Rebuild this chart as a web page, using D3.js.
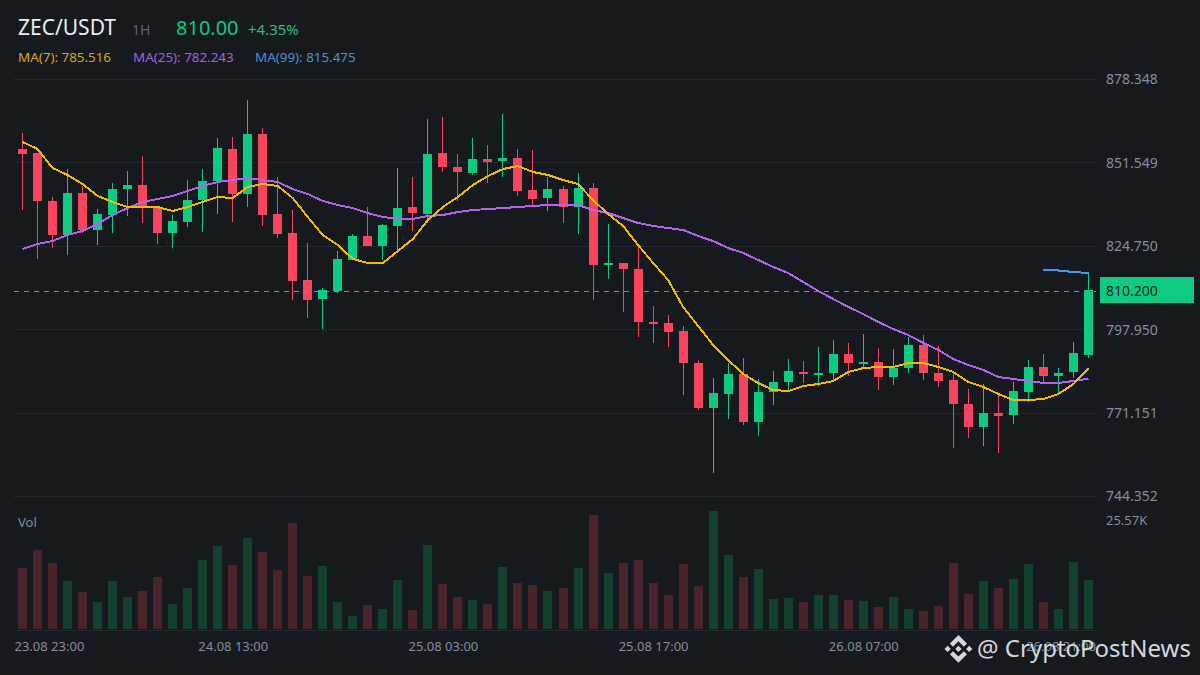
<!DOCTYPE html>
<html>
<head>
<meta charset="utf-8">
<title>ZEC/USDT</title>
<script src="https://cdn.jsdelivr.net/npm/d3@7"></script>
<style>
html, body { margin: 0; padding: 0; background: #161a1e; }
svg { display: block; }
text { font-family: "Noto Sans", sans-serif; }
.domain { display: none; }
</style>
</head>
<body>
<svg id="chart" width="1200" height="675"></svg>
<script>
// hourly candles
var opens = [856.01,854.73,839.31,828.38,841.88,829.99,834.80,843.16,844.44,837.05,829.03,832.56,839.63,845.73,856.01,841.55,860.83,835.12,829.03,813.92,
    807.81,810.39,820.35,828.06,824.84,831.27,837.38,835.12,854.73,850.23,848.30,852.80,852.16,853.12,842.84,840.27,843.16,837.38,843.48,818.74,
    819.39,817.46,800.43,800.11,797.53,787.25,772.79,777.29,783.71,768.29,777.93,781.15,784.36,783.39,784.04,790.14,786.93,787.57,782.75,785.64,
    793.03,784.04,781.79,774.07,766.68,771.19,770.55,777.93,785.96,783.07,784.36,789.82];
var highs = [861.16,854.73,840.59,849.59,844.13,836.73,845.09,848.95,853.76,837.70,834.80,846.05,849.59,859.55,859.87,871.76,862.76,847.01,836.41,825.80,
    811.35,823.24,828.70,837.38,831.91,849.91,847.01,865.65,866.30,854.40,859.55,857.30,867.26,856.01,855.69,847.01,844.13,848.30,845.09,831.91,
    819.39,824.52,805.56,802.67,799.14,788.21,782.43,787.25,788.85,782.11,784.68,788.53,787.89,792.39,794.64,793.68,796.56,792.07,791.75,795.60,
    796.24,792.71,784.04,778.89,780.50,777.29,781.15,788.21,790.14,785.64,794.00,816.49];
var lows = [836.41,820.67,824.20,821.95,829.03,825.16,829.03,834.48,832.24,825.48,824.20,830.95,829.35,835.12,832.56,837.38,831.27,827.41,807.49,801.71,
    798.17,809.75,820.35,824.84,820.35,823.56,829.67,832.24,848.62,839.31,847.66,845.09,847.01,840.92,838.02,836.09,832.24,828.70,807.49,814.24,
    803.64,795.60,793.68,792.39,776.96,772.15,751.91,769.25,767.33,763.79,773.75,777.93,780.83,779.86,781.79,783.07,785.64,778.57,780.18,784.04,
    781.79,779.54,759.93,763.15,760.57,758.33,767.65,774.72,781.15,777.29,782.43,788.85];
var closes = [854.40,839.31,828.38,841.88,829.99,835.12,843.16,844.44,837.05,829.03,832.88,839.63,845.73,856.33,841.55,860.83,834.80,828.70,813.60,807.49,
    810.71,820.67,828.06,824.84,831.59,837.05,835.44,854.40,850.23,848.62,852.80,851.84,853.12,842.52,839.95,843.16,837.38,843.48,818.74,819.39,
    817.46,800.43,799.79,797.21,787.25,772.79,777.61,783.71,768.29,777.93,781.15,784.68,783.71,784.04,790.14,787.25,787.57,782.75,785.64,793.03,
    784.04,781.47,774.07,766.68,771.19,770.23,778.25,785.96,783.07,784.04,790.46,810.60];
// volume in thousands
var volumes = [14.50,18.74,15.67,11.43,8.84,6.48,11.43,7.66,9.07,12.37,6.01,9.78,16.38,19.68,15.20,21.57,18.27,14.02,25.10,12.61,
    14.97,6.48,3.18,5.77,4.83,11.67,4.60,19.92,10.72,7.66,6.95,6.01,14.73,10.96,10.49,9.07,9.78,14.50,26.99,13.32,
    15.67,16.38,10.96,8.13,15.44,10.25,27.93,17.56,12.37,14.26,7.19,7.42,6.48,8.13,8.13,6.95,6.72,5.30,7.66,4.83,
    4.36,5.54,15.67,8.37,11.43,9.78,11.90,15.44,6.48,4.83,15.91,11.67];
var ma7 = [858.27,856.01,849.91,847.66,844.77,840.92,838.99,837.38,837.38,837.38,836.09,837.38,838.99,840.59,840.27,843.80,844.77,844.13,840.27,834.16,
    828.38,825.16,820.67,819.39,819.39,823.24,827.09,833.20,837.38,840.59,844.44,847.33,849.59,850.55,848.62,847.66,846.05,844.77,839.63,835.12,
    831.27,825.16,819.39,813.92,805.24,799.14,793.03,788.21,783.71,780.83,778.57,778.25,779.86,780.50,781.47,784.36,785.64,785.96,785.96,787.25,
    787.25,785.96,784.36,781.15,779.54,777.29,775.36,775.36,775.68,777.29,780.50,785.52];
var ma25 = [823.88,825.48,826.45,828.38,829.67,831.91,834.80,837.05,838.99,839.95,840.92,842.52,844.13,845.41,846.05,846.69,846.05,845.41,843.16,841.55,
    839.31,838.02,837.05,835.44,834.16,833.52,833.52,834.48,834.80,835.77,836.41,836.73,837.05,837.38,837.70,838.02,838.02,838.02,836.41,835.44,
    833.84,832.24,831.27,830.63,829.99,828.06,826.45,824.20,822.60,820.35,818.10,816.17,813.28,810.39,807.81,805.24,802.99,800.43,798.17,796.24,
    793.68,791.43,788.53,786.60,785.00,782.75,782.11,781.47,780.83,780.83,781.47,782.24];
// only the tail of the MA(99) is in view
var ma99 = [817.13,816.97,816.49,816.17];
var ma99Start = 68;

var priceTicks = [878.348,851.549,824.750,797.950,771.151,744.352];
var lastPrice = 810.200;
var timeTicks = [0,14,28,42,56,70];
var timeLabels = ["23.08 23:00","24.08 13:00","25.08 03:00","25.08 17:00","26.08 07:00","26.08 21:00"];
var volTick = 25.57;

var green = "#0ecb81", red = "#f6465d",
    greenVol = "#124130", redVol = "#4b232a",
    gridColor = "#25282d", axisText = "#848e9c",
    ma7Color = "#f0b90b", ma25Color = "#b463ef", ma99Color = "#4a96ee";

var svg = d3.select("#chart");
svg.append("rect").attr("width", 1200).attr("height", 675).attr("fill", "#161a1e");

var x = d3.scaleLinear().domain([0, closes.length - 1]).range([22.5, 1088.5]);
var y = d3.scaleLinear().domain([744.352, 878.348]).range([496.5, 79.5]);
var yVol = d3.scaleLinear().domain([0, volTick]).range([629.5, 521]);

function px(i) { return Math.round(x(i) - 0.5) + 0.5; }
function isUp(i) { return closes[i] >= opens[i]; }

// price axis + grid
var priceAxis = svg.append("g")
    .attr("transform", "translate(1096,0)")
    .call(d3.axisRight(y).tickValues(priceTicks).tickFormat(d3.format(".3f")).tickSize(0).tickPadding(10));
priceAxis.selectAll("text").attr("fill", axisText).style("font-size", "14px");

svg.append("g").selectAll("line").data(priceTicks).enter().append("line")
    .attr("x1", 14).attr("x2", 1096)
    .attr("y1", function(d) { return Math.round(y(d) - 0.5) + 0.5; })
    .attr("y2", function(d) { return Math.round(y(d) - 0.5) + 0.5; })
    .attr("stroke", gridColor)
    .attr("stroke-width", 1);

// volume baseline + bars
svg.append("line")
    .attr("x1", 14).attr("x2", 1096)
    .attr("y1", 630.5).attr("y2", 630.5)
    .attr("stroke", gridColor);

svg.append("g").selectAll("rect").data(volumes).enter().append("rect")
    .attr("x", function(d, i) { return px(i) - 4.5; })
    .attr("width", 9)
    .attr("y", function(d) { return Math.round(yVol(d)); })
    .attr("height", function(d) { return 629 - Math.round(yVol(d)); })
    .attr("fill", function(d, i) { return isUp(i) ? greenVol : redVol; });

// candles
var candles = svg.append("g").selectAll("g").data(closes).enter().append("g")
    .attr("shape-rendering", "crispEdges");

candles.append("rect")
    .attr("x", function(d, i) { return px(i) - 0.5; })
    .attr("width", 1)
    .attr("y", function(d, i) { return Math.round(y(highs[i])); })
    .attr("height", function(d, i) { return Math.round(y(lows[i])) - Math.round(y(highs[i])); })
    .attr("fill", function(d, i) { return isUp(i) ? green : red; });

candles.append("rect")
    .attr("x", function(d, i) { return px(i) - 4.5; })
    .attr("width", 9)
    .attr("y", function(d, i) { return Math.round(y(Math.max(opens[i], closes[i]))); })
    .attr("height", function(d, i) {
        return Math.max(1, Math.round(y(Math.min(opens[i], closes[i]))) - Math.round(y(Math.max(opens[i], closes[i]))));
    })
    .attr("fill", function(d, i) { return isUp(i) ? green : red; });

// last price dashed line, goes over the candles
svg.append("line")
    .attr("x1", 14).attr("x2", 1096)
    .attr("y1", Math.round(y(lastPrice) - 0.5) + 0.5)
    .attr("y2", Math.round(y(lastPrice) - 0.5) + 0.5)
    .attr("stroke", "#2dbd8c")
    .attr("stroke-width", 1)
    .attr("stroke-dasharray", "5,5");

// moving averages
var line = d3.line()
    .x(function(d) { return x(d.i); })
    .y(function(d) { return y(d.v); });

function drawMa(values, start, color) {
    svg.append("path")
        .datum(values.map(function(v, i) { return {i: i + start, v: v}; }))
        .attr("d", line)
        .attr("fill", "none")
        .attr("stroke", color)
        .attr("stroke-width", 2)
        .attr("shape-rendering", "crispEdges");
}
drawMa(ma25, 0, ma25Color);
drawMa(ma7, 0, ma7Color);
drawMa(ma99, ma99Start, ma99Color);

// last price tag
svg.append("rect")
    .attr("x", 1100).attr("y", 277).attr("width", 94).attr("height", 26)
    .attr("fill", green);
svg.append("text")
    .attr("x", 1106).attr("y", 296)
    .attr("fill", "#11241f")
    .style("font-size", "14px")
    .text(d3.format(".3f")(lastPrice));

// time axis, first and last label get pushed inside the plot
var timeAxis = svg.append("g")
    .attr("transform", "translate(0,642)")
    .call(d3.axisBottom(x).tickValues(timeTicks)
        .tickFormat(function(d, i) { return timeLabels[i]; })
        .tickSize(0).tickPadding(0));
timeAxis.selectAll("text")
    .attr("fill", axisText)
    .style("font-size", "13px")
    .attr("dy", "0.71em");
timeAxis.selectAll(".tick").filter(function(d) { return d == 0; }).select("text")
    .attr("text-anchor", "start").attr("x", -8.5);
timeAxis.selectAll(".tick").filter(function(d) { return d == 70; }).select("text")
    .attr("text-anchor", "end").attr("x", 22);

// volume labels
svg.append("text").attr("x", 18).attr("y", 527).attr("fill", axisText)
    .style("font-size", "13px").text("Vol");
svg.append("text").attr("x", 1106).attr("y", 525).attr("fill", axisText)
    .style("font-size", "13px").text(volTick + "K");

// header
svg.append("text").attr("x", 18).attr("y", 35).attr("fill", "#eaecef")
    .style("font-size", "21px").text("ZEC/USDT");
svg.append("text").attr("x", 132).attr("y", 35).attr("fill", "#5e6673")
    .style("font-size", "14px").text("1H");
svg.append("text").attr("x", 176).attr("y", 35).attr("fill", green)
    .style("font-size", "20px").text("810.00");
svg.append("text").attr("x", 248).attr("y", 35).attr("fill", "#2ebd85")
    .style("font-size", "15px").text("+4.35%");

var maLabels = [
    {x: 18, color: "#d9a70e", text: "MA(7): 785.516"},
    {x: 133, color: "#a560e0", text: "MA(25): 782.243"},
    {x: 255, color: "#4c8fdc", text: "MA(99): 815.475"}
];
svg.append("g").selectAll("text").data(maLabels).enter().append("text")
    .attr("x", function(d) { return d.x; })
    .attr("y", 62)
    .attr("fill", function(d) { return d.color; })
    .style("font-size", "13.4px")
    .text(function(d) { return d.text; });

// watermark
var mark = svg.append("g").attr("transform", "translate(944.5,635) scale(0.22)").attr("fill", "#d4d7db");
["M38.73 53.2l24.59-24.58 24.6 24.6 14.3-14.31L63.32 0 24.42 38.9z",
 "M0 63.31l14.3-14.31 14.31 14.31-14.31 14.3z",
 "M38.73 73.41L63.32 98l24.6-24.6 14.31 14.29-38.9 38.91-38.91-38.88z",
 "M98 63.31L112.3 49l14.31 14.3-14.31 14.32z",
 "M77.83 63.3L63.32 48.78 52.59 59.51l-1.24 1.23-2.54 2.54 14.51 14.5 14.51-14.47z"
].forEach(function(p) { mark.append("path").attr("d", p); });
svg.append("text").attr("x", 977).attr("y", 657).attr("fill", "#d4d7db")
    .style("font-size", "24px").text("@ CryptoPostNews");
</script>
</body>
</html>
